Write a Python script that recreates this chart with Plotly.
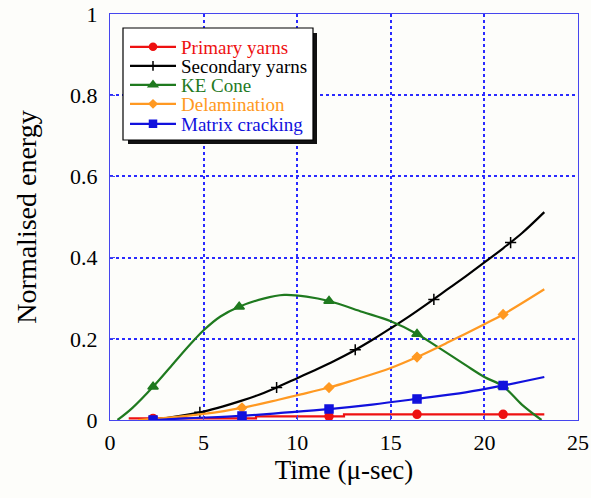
import plotly.graph_objects as go

# ---- data ----
primary_x = [1.0, 7.8, 12.5, 23.2]
primary_y = [0.004, 0.009, 0.014, 0.014]
primary_mx = [2.3, 7.05, 11.7, 16.4, 21.0]
primary_my = [0.004, 0.004, 0.009, 0.014, 0.014]

secondary_x = [2.0, 3, 4, 5, 6, 7, 8, 9, 10, 11, 12, 13, 14, 15, 16, 17, 18, 19, 20, 21, 22, 23.2]
secondary_y = [0.0, 0.005, 0.012, 0.021, 0.033, 0.047, 0.063, 0.082, 0.103, 0.124, 0.146, 0.17,
               0.197, 0.226, 0.256, 0.288, 0.321, 0.354, 0.388, 0.423, 0.46, 0.512]
secondary_mx = [4.8, 8.9, 13.1, 17.3, 21.4]
secondary_my = [0.019, 0.080, 0.173, 0.297, 0.437]

ke_x = [0.4, 1.2, 2.3, 3.4, 4.3, 5.0, 5.9, 6.9, 8.2, 9.3, 10.5, 11.7, 13.5, 15.0, 16.4, 17.5,
        19.0, 20.0, 21.0, 22.0, 23.05]
ke_y = [0.0, 0.03, 0.082, 0.14, 0.187, 0.221, 0.255, 0.279, 0.299, 0.308, 0.304, 0.293, 0.266,
        0.243, 0.212, 0.18, 0.135, 0.106, 0.083, 0.038, 0.0]
ke_mx = [2.3, 6.9, 11.7, 16.4, 21.0]
ke_my = [0.082, 0.279, 0.293, 0.212, 0.083]

delam_x = [1.5, 3, 5, 7.05, 9, 10, 11.7, 13, 15, 16.4, 18, 20, 21, 23.2]
delam_y = [0.0, 0.005, 0.015, 0.03, 0.05, 0.061, 0.08, 0.098, 0.128, 0.155, 0.19, 0.236, 0.26, 0.322]
delam_mx = [7.05, 11.7, 16.4, 21.0]
delam_my = [0.03, 0.08, 0.155, 0.26]

matrix_x = [2.3, 4, 7.05, 9, 11.7, 14, 16.4, 19, 21.0, 23.2]
matrix_y = [0.0, 0.004, 0.01, 0.017, 0.027, 0.038, 0.052, 0.068, 0.085, 0.106]
matrix_mx = [2.3, 7.05, 11.7, 16.4, 21.0]
matrix_my = [0.0, 0.01, 0.027, 0.052, 0.085]

x_ticks = [0, 5, 10, 15, 20, 25]
y_ticks = [0, 0.2, 0.4, 0.6, 0.8, 1]
y_tick_text = ["0", "0.2", "0.4", "0.6", "0.8", "1"]

RED = "#ee1111"
BLACK = "#000000"
GREEN = "#1f7a1f"
ORANGE = "#ff9922"
BLUE = "#1111dd"
AXIS = "#4646ee"
GRID = "#2a2aff"
FONT = "Liberation Serif"

series = [
    ("Primary yarns", RED, "circle", 8, primary_x, primary_y, primary_mx, primary_my, "hv"),
    ("Secondary yarns", BLACK, "cross-thin-open", 8, secondary_x, secondary_y, secondary_mx, secondary_my, "spline"),
    ("KE Cone", GREEN, "triangle-up", 9, ke_x, ke_y, ke_mx, ke_my, "spline"),
    ("Delamination", ORANGE, "diamond", 7, delam_x, delam_y, delam_mx, delam_my, "spline"),
    ("Matrix cracking", BLUE, "square", 8, matrix_x, matrix_y, matrix_mx, matrix_my, "spline"),
]

W, H = 591, 498
L, R, T, B = 110, 13, 14, 78
PW, PH = W - L - R, H - T - B


def px(xp):  # page x -> paper fraction
    return (xp - L) / PW


def py(yp):  # page y -> paper fraction
    return (H - B - yp) / PH


fig = go.Figure()

for name, col, sym, sz, xs, ys, mx, my, shape in series:
    fig.add_trace(go.Scatter(
        x=xs, y=ys, mode="lines", line=dict(color=col, width=2.2, shape=shape),
        showlegend=False, hoverinfo="skip"))
    fig.add_trace(go.Scatter(
        x=mx, y=my, mode="markers",
        marker=dict(symbol=sym, size=sz, color=col, line=dict(color=col, width=1.5)),
        showlegend=False))

# legend entries, one small legend per entry so the row spacing can match
legend_rows = [47, 66, 85, 104, 124]
legend_layouts = {}
for i, (name, col, sym, sz, xs, ys, mx, my, shape) in enumerate(series):
    lname = "legend" if i == 0 else f"legend{i + 1}"
    fig.add_trace(go.Scatter(
        x=[None], y=[None], mode="lines+markers",
        name=f"<span style='color:{col}'>{name}</span>",
        legend=lname,
        line=dict(color=col, width=2.2),
        marker=dict(symbol=sym, size=sz - 1, color=col, line=dict(color=col, width=1.5))))
    legend_layouts[lname] = dict(
        x=px(125), y=py(legend_rows[i]), xanchor="left", yanchor="middle",
        bgcolor="rgba(0,0,0,0)", borderwidth=0,
        font=dict(family=FONT, size=19), itemwidth=46)

# legend shadow and box
fig.add_shape(type="rect", xref="paper", yref="paper",
              x0=px(128), x1=px(317), y0=py(144), y1=py(33),
              fillcolor="#111111", line=dict(width=0), layer="above")
fig.add_shape(type="rect", xref="paper", yref="paper",
              x0=px(123), x1=px(313), y0=py(140), y1=py(28),
              fillcolor="white", line=dict(width=1.2, color="black"), layer="above")

axis_common = dict(
    showline=True, linecolor=AXIS, linewidth=1.4, mirror=True,
    showgrid=True, gridcolor=GRID, griddash="dot", gridwidth=1.5,
    ticks="inside", ticklen=5, tickcolor=AXIS, tickwidth=1.2,
    zeroline=False, automargin=False, ticklabeloverflow="allow",
    tickfont=dict(family=FONT, size=22, color="black"),
)

fig.update_xaxes(range=[0, 25], tickvals=x_ticks, ticklabelstandoff=2,
                 title=dict(text="Time (μ-sec)", font=dict(family=FONT, size=27, color="black"),
                            standoff=5),
                 **axis_common)
fig.update_yaxes(range=[0, 1], tickvals=y_ticks, ticktext=y_tick_text, ticklabelstandoff=7,
                 title=dict(text="Normalised energy", font=dict(family=FONT, size=28, color="black"),
                            standoff=25),
                 **axis_common)

fig.update_layout(
    width=W, height=H,
    margin=dict(l=L, r=R, t=T, b=B),
    paper_bgcolor="#fdfdfa", plot_bgcolor="#fdfdfa",
    font=dict(family=FONT, size=19, color="black"),
    showlegend=True,
    **legend_layouts,
)

# remove the browser's default 8px page margin so the figure fills the window exactly
fig.write_html("out.html",
               config={"displayModeBar": False},
               post_script="document.body.style.margin='0';document.body.style.overflow='hidden';")
